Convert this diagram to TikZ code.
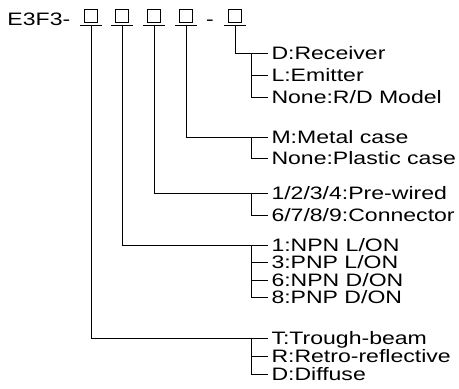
\documentclass[tikz,border=0pt]{standalone}
\usepackage{fontspec}
\setmainfont[FakeStretch=1.28]{Liberation Sans}
\begin{document}
\begin{tikzpicture}[
        x=1pt, y=-1pt,
        line width=1pt,
        every node/.style={
            font=\fontsize{18}{20}\selectfont,
            inner sep=0pt
        },
        codebox/.style={
            draw,
            minimum width=13pt,
            minimum height=13pt
        },
        option/.style={
            anchor=west,
            text height=13pt,
            text depth=0pt,
            inner xsep=3pt
        }
    ]
        \useasboundingbox (0,0) rectangle (459,389);
        \coordinate (bx) at (251,0);

        \node[anchor=base west] (model) at (7,25) {E3F3-};
        \foreach \b/\x in {b1/91, b2/122, b3/154, b4/186, b5/235} {
            \node[codebox] (\b) at (\x,16) {};
            \draw (\x-11,25) -- (\x+11,25);
            \coordinate (\b u) at (\x,25);
        }
        \node[anchor=base] (dash) at (210,25) {-};

        % options of each code digit
        \node[option] (r5a) at (268,53) {D:Receiver};
        \node[option] (r5b) at (268,75) {L:Emitter};
        \node[option] (r5c) at (268,97) {None:R/D Model};

        \node[option] (r4a) at (268,137) {M:Metal case};
        \node[option] (r4b) at (268,158) {None:Plastic case};

        \node[option] (r3a) at (268,193) {1/2/3/4:Pre-wired};
        \node[option] (r3b) at (268,215) {6/7/8/9:Connector};

        \node[option] (r2a) at (268,245) {1:NPN L/ON};
        \node[option] (r2b) at (268,262) {3:PNP L/ON};
        \node[option] (r2c) at (268,280) {6:NPN D/ON};
        \node[option] (r2d) at (268,297) {8:PNP D/ON};

        \node[option] (r1a) at (268,338) {T:Trough-beam};
        \node[option] (r1b) at (268,356) {R:Retro-reflective};
        \node[option] (r1c) at (268,374) {D:Diffuse};

        \draw (b5u) |- (r5a.west);
        \draw (r5a.west -| bx) |- (r5c.west);
        \draw (r5b.west -| bx) -- (r5b.west);

        \draw (b4u) |- (r4a.west);
        \draw (r4a.west -| bx) |- (r4b.west);

        \draw (b3u) |- (r3a.west);
        \draw (r3a.west -| bx) |- (r3b.west);

        \draw (b2u) |- (r2a.west);
        \draw (r2a.west -| bx) |- (r2d.west);
        \draw (r2b.west -| bx) -- (r2b.west);
        \draw (r2c.west -| bx) -- (r2c.west);

        \draw (b1u) |- (r1a.west);
        \draw (r1a.west -| bx) |- (r1c.west);
        \draw (r1b.west -| bx) -- (r1b.west);
    \end{tikzpicture}
\end{document}
